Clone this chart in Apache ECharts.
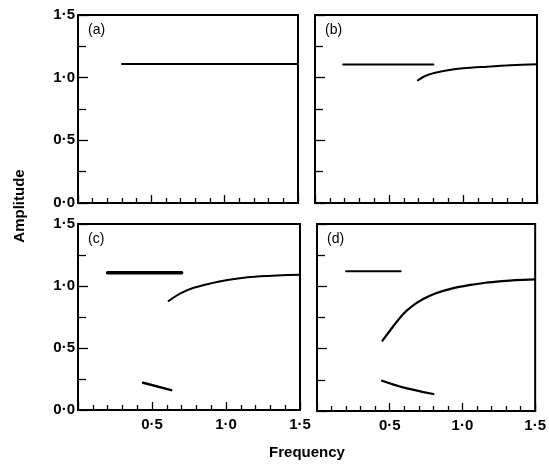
<!DOCTYPE html>
<html>
<head>
<meta charset="utf-8">
<script src="https://cdn.jsdelivr.net/npm/echarts@6/dist/echarts.min.js"></script>
<style>
  html, body { margin: 0; padding: 0; background: #fff; }
  #chart { width: 549px; height: 465px; }
</style>
</head>
<body>
<div id="chart"></div>
<script>
// Amplitude–frequency response branches, one panel per case (a)–(d)
const panelNames = ['(a)', '(b)', '(c)', '(d)'];
const xTicks = [0, 0.5, 1.0, 1.5];
const yTicks = [0, 0.5, 1.0, 1.5];

// (a)
const aUpper = [[0.30, 1.11], [1.50, 1.11]];
// (b)
const bUpper = [[0.19, 1.105], [0.80, 1.105]];
const bCurve = [[0.695, 0.979], [0.756, 1.019], [0.868, 1.053], [1.003, 1.075], [1.162, 1.088], [1.32, 1.099], [1.50, 1.107]];
// (c)
const cUpper = [[0.20, 1.107], [0.70, 1.107]];
const cCurve = [[0.612, 0.879], [0.692, 0.941], [0.782, 0.986], [0.896, 1.021], [1.01, 1.048], [1.146, 1.070], [1.282, 1.081], [1.418, 1.088], [1.50, 1.09]];
const cLower = [[0.44, 0.22], [0.63, 0.16]];
// (d)
const dUpper = [[0.20, 1.12], [0.575, 1.12]];
const dCurve = [[0.45, 0.564], [0.522, 0.676], [0.590, 0.775], [0.648, 0.836], [0.727, 0.896], [0.818, 0.944], [0.931, 0.984], [1.045, 1.010], [1.159, 1.029], [1.272, 1.042], [1.363, 1.050], [1.50, 1.056]];
const dLower = [[0.447, 0.243], [0.59, 0.19], [0.80, 0.136]];

const panelSeries = [
  [{ d: aUpper, w: 2 }],
  [{ d: bUpper, w: 2 }, { d: bCurve, w: 2, smooth: true }],
  [{ d: cUpper, w: 3.5 }, { d: cCurve, w: 2, smooth: true }, { d: cLower, w: 2.5 }],
  [{ d: dUpper, w: 2 }, { d: dCurve, w: 2.2, smooth: true }, { d: dLower, w: 2.2, smooth: true }]
];

const grids = [
  { left: 78, top: 15, width: 220, height: 188 },
  { left: 315, top: 15, width: 222, height: 188 },
  { left: 78, top: 224, width: 222, height: 186 },
  { left: 317, top: 224, width: 220, height: 187 }
];

const FONT = '"Liberation Sans", Arial, sans-serif';
const fmt = v => v.toFixed(1).replace('.', '\u00b7');

const xAxes = [], yAxes = [], series = [], graphics = [];
grids.forEach((g, i) => {
  g.show = true;
  g.borderColor = '#000';
  g.borderWidth = 2;
  g.containLabel = false;
  const bottomRow = i >= 2, leftCol = i % 2 === 0;
  xAxes.push({
    type: 'value', gridIndex: i, min: xTicks[0], max: xTicks[xTicks.length - 1], interval: 0.5,
    axisLine: { show: true, lineStyle: { color: '#000', width: 2 } },
    axisTick: { show: true, inside: true, length: 8, lineStyle: { color: '#000', width: 1.3 } },
    minorTick: { show: true, splitNumber: 5, length: 5, lineStyle: { color: '#000', width: 1.3 } },
    splitLine: { show: false },
    axisLabel: {
      show: bottomRow, margin: 7, color: '#000', fontFamily: FONT, fontSize: 15, fontWeight: 'bold',
      formatter: v => (v === 0 ? '' : fmt(v))
    }
  });
  yAxes.push({
    type: 'value', gridIndex: i, min: yTicks[0], max: yTicks[yTicks.length - 1], interval: 0.5,
    axisLine: { show: true, lineStyle: { color: '#000', width: 2 } },
    axisTick: { show: true, inside: true, length: 10, lineStyle: { color: '#000', width: 1.3 } },
    minorTick: { show: true, splitNumber: 2, length: 8, lineStyle: { color: '#000', width: 1.3 } },
    splitLine: { show: false },
    axisLabel: {
      show: leftCol, margin: 3, color: '#000', fontFamily: FONT, fontSize: 15, fontWeight: 'bold',
      formatter: v => fmt(v)
    }
  });
  panelSeries[i].forEach(s => {
    series.push({
      type: 'line', xAxisIndex: i, yAxisIndex: i, data: s.d, smooth: s.smooth ? 0.3 : false,
      showSymbol: false, silent: true, animation: false,
      lineStyle: { color: '#000', width: s.w, cap: 'round' }
    });
  });
  graphics.push({
    type: 'text', left: g.left + 10, top: g.top + 8,
    style: { text: panelNames[i], fill: '#000', font: '14px ' + FONT }
  });
});

graphics.push({
  type: 'text', x: 20, y: 206, rotation: Math.PI / 2,
  style: { text: 'Amplitude', fill: '#000', font: 'bold 15px ' + FONT, align: 'center', verticalAlign: 'middle' }
});
graphics.push({
  type: 'text', x: 307, y: 453,
  style: { text: 'Frequency', fill: '#000', font: 'bold 15px ' + FONT, align: 'center', verticalAlign: 'middle' }
});

const chart = echarts.init(document.getElementById('chart'), null, { renderer: 'canvas' });
chart.setOption({
  animation: false,
  backgroundColor: '#fff',
  grid: grids,
  xAxis: xAxes,
  yAxis: yAxes,
  series: series,
  graphic: graphics
});
</script>
</body>
</html>
